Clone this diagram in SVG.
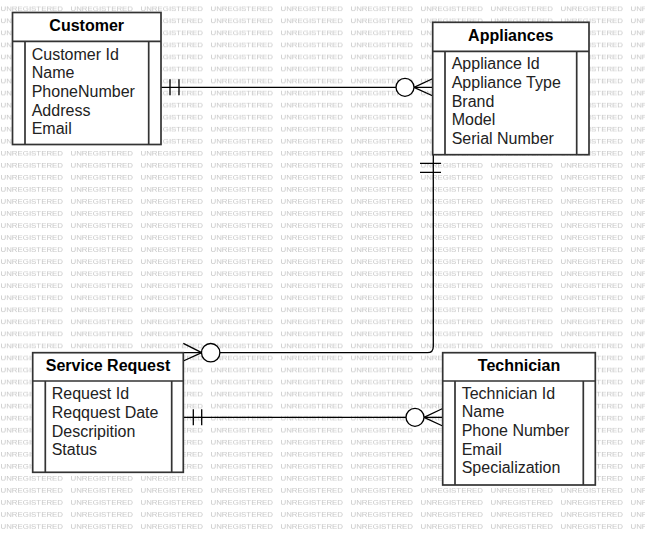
<svg xmlns="http://www.w3.org/2000/svg" width="645" height="535" viewBox="0 0 645 535">
<defs>
<style>
.wm{font-family:"Liberation Sans",Arial,sans-serif;font-size:7.4px;fill:#c6c6c6;}
.box{fill:#ffffff;stroke:#333333;stroke-width:1.7;}
.ln{fill:none;stroke:#333333;stroke-width:1.7;}
.title{font-family:"Liberation Sans",Arial,sans-serif;font-size:16px;font-weight:bold;fill:#000000;text-anchor:middle;}
.attr{font-family:"Liberation Sans",Arial,sans-serif;font-size:16px;fill:#222222;}
.con{fill:none;stroke:#000000;stroke-width:1.3;}
.circ{fill:#ffffff;stroke:#000000;stroke-width:1.3;}
</style>
<pattern id="wmp" x="0" y="0" width="70" height="12.04" patternUnits="userSpaceOnUse">
<text class="wm" x="0.5" y="11.4" textLength="62.5" lengthAdjust="spacingAndGlyphs">UNREGISTERED</text>
</pattern>
</defs>
<rect x="0" y="0" width="645" height="535" fill="#ffffff"/>
<rect x="0" y="0" width="645" height="535" fill="url(#wmp)"/>

<g id="connectors">
<!-- Customer to Appliances -->
<path class="con" d="M161 87.3 H433"/>
<path class="con" d="M170 79.3 V95.3 M179 79.3 V95.3"/>
<path class="con" d="M414 87.3 L433 78.5 M414 87.3 L433 96"/>
<circle class="circ" cx="405" cy="87.3" r="9"/>
<!-- Appliances to Service Request -->
<path class="con" d="M433.3 155 V346.5 Q433.3 352.7 427.5 352.7 H183.3"/>
<path class="con" d="M420 163.3 H441 M420 172.3 H441"/>
<path class="con" d="M201.7 352.7 L183.3 343.3 M201.7 352.7 L183.3 361"/>
<circle class="circ" cx="210.7" cy="352.7" r="9.2"/>
<!-- Service Request to Technician -->
<path class="con" d="M183.3 417.3 H442.7"/>
<path class="con" d="M193.3 409.3 V425.3 M201.7 409.3 V425.3"/>
<path class="con" d="M424 417.3 L442.7 408.5 M424 417.3 L442.7 426"/>
<circle class="circ" cx="415" cy="417.3" r="9"/>
</g>

<g id="customer">
<rect class="box" x="12.5" y="12.5" width="148.5" height="132"/>
<path class="ln" d="M12.5 41.3 H161 M25 41.3 V144.5 M148.7 41.3 V144.5"/>
<text class="title" x="86.7" y="30.5">Customer</text>
<text class="attr" x="31.7" y="59.5">Customer Id</text>
<text class="attr" x="31.7" y="78.2">Name</text>
<text class="attr" x="31.7" y="96.9">PhoneNumber</text>
<text class="attr" x="31.7" y="115.6">Address</text>
<text class="attr" x="31.7" y="134.3">Email</text>
</g>

<g id="appliances">
<rect class="box" x="432.7" y="22.3" width="156.3" height="132.4"/>
<path class="ln" d="M432.7 51.3 H589 M445 51.3 V154.7 M576.7 51.3 V154.7"/>
<text class="title" x="510.8" y="40.7">Appliances</text>
<text class="attr" x="451.7" y="69.3">Appliance Id</text>
<text class="attr" x="451.7" y="88">Appliance Type</text>
<text class="attr" x="451.7" y="106.7">Brand</text>
<text class="attr" x="451.7" y="125.3">Model</text>
<text class="attr" x="451.7" y="144">Serial Number</text>
</g>

<g id="service-request">
<rect class="box" x="32.7" y="352.7" width="150.6" height="119.6"/>
<path class="ln" d="M32.7 381 H183.3 M45.3 381 V472.3 M171.7 381 V472.3"/>
<text class="title" x="108" y="370.5">Service Request</text>
<text class="attr" x="51.7" y="399.3">Request Id</text>
<text class="attr" x="51.7" y="418">Reqquest Date</text>
<text class="attr" x="51.7" y="436.7">Descripition</text>
<text class="attr" x="51.7" y="455.3">Status</text>
</g>

<g id="technician">
<rect class="box" x="442.7" y="352.7" width="152.6" height="132.3"/>
<path class="ln" d="M442.7 381 H595.3 M455 381 V485 M583.3 381 V485"/>
<text class="title" x="519" y="370.5">Technician</text>
<text class="attr" x="461.7" y="398.5">Technician Id</text>
<text class="attr" x="461.7" y="417.2">Name</text>
<text class="attr" x="461.7" y="435.9">Phone Number</text>
<text class="attr" x="461.7" y="454.6">Email</text>
<text class="attr" x="461.7" y="473.3">Specialization</text>
</g>
</svg>
